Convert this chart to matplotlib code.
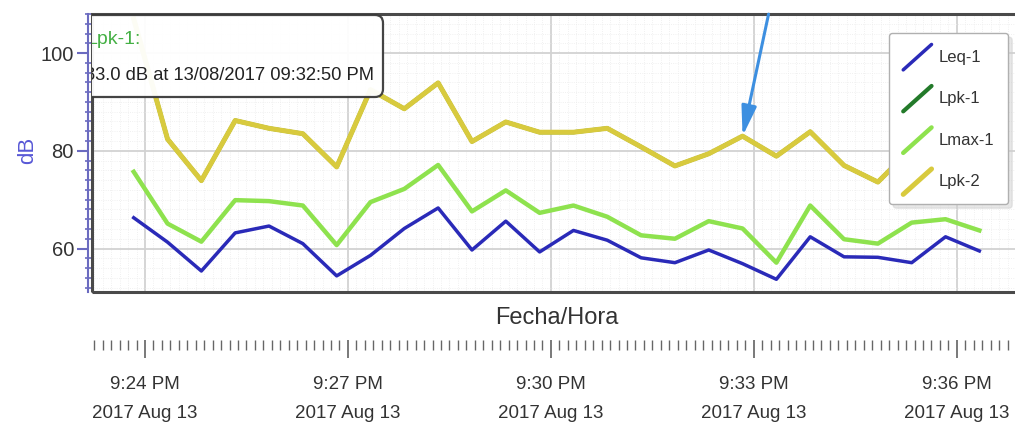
import numpy as np
import pandas as pd
import matplotlib
matplotlib.use('Agg')
import matplotlib.pyplot as plt
import matplotlib.dates as mdates
from matplotlib.ticker import MultipleLocator
from matplotlib.patches import FancyBboxPatch, Rectangle
from matplotlib.lines import Line2D
from matplotlib.legend_handler import HandlerBase

plt.rcParams['font.family'] = ['Liberation Sans Narrow', 'Liberation Sans', 'DejaVu Sans']

# samples every 30 s, 21:23:50 -> 21:36:20
times = pd.date_range('2017-08-13 21:23:50', periods=26, freq='30s')
leq_1 = [66.3, 61.3, 55.4, 63.2, 64.6, 61.0, 54.4, 58.6, 64.1, 68.3, 59.7, 65.6, 59.3,
         63.7, 61.7, 58.1, 57.1, 59.7, 56.9, 53.7, 62.4, 58.3, 58.2, 57.1, 62.4, 59.5]
lmax_1 = [75.7, 65.1, 61.4, 69.9, 69.7, 68.8, 60.7, 69.5, 72.2, 77.1, 67.6, 71.9, 67.3,
          68.8, 66.5, 62.7, 62.0, 65.6, 64.1, 57.1, 68.8, 61.9, 61.0, 65.3, 66.0, 63.7]
lpk_2 = [107.0, 82.4, 73.9, 86.2, 84.6, 83.5, 76.7, 92.5, 88.6, 93.9, 81.9, 85.9, 83.8,
         83.8, 84.6, 80.8, 76.9, 79.4, 83.0, 78.9, 83.9, 77.0, 73.6, 80.5, 82.0, 79.0]
lpk_1 = list(lpk_2)  # hidden under Lpk-2

series = ['Leq-1', 'Lpk-1', 'Lmax-1', 'Lpk-2']
colors = ['#2a2ab8', '#237a2a', '#8ee24e', '#d8ca3e']
widths = [2.5, 3.0, 3.2, 3.6]

marked_idx = 18  # 09:32:50 PM point in the tooltip


class DiagHandler(HandlerBase):
    def create_artists(self, legend, orig, xd, yd, w, h, fs, trans):
        ln = Line2D([-xd, -xd + w], [-yd - 0.25 * h, -yd + 1.15 * h],
                    color=orig.get_color(), lw=orig.get_linewidth(), solid_capstyle='round')
        ln.set_transform(trans)
        return [ln]


fig = plt.figure(figsize=(10.15, 4.32), dpi=100)
ax = fig.add_axes([92 / 1015, 140 / 432, 0.912, 278 / 432])

lines = []
for name, vals, c, lw in zip(series, [leq_1, lpk_1, lmax_1, lpk_2], colors, widths):
    ln, = ax.plot(times, vals, color=c, lw=lw, label=name, solid_joinstyle='round')
    lines.append(ln)

ax.set_xlim(pd.Timestamp('2017-08-13 21:23:13'), pd.Timestamp('2017-08-13 21:36:54'))
ax.set_ylim(51.1, 108.0)

ax.xaxis.set_major_locator(mdates.MinuteLocator(byminute=range(0, 60, 3)))
ax.xaxis.set_minor_locator(MultipleLocator(7.5 / 86400))
ax.yaxis.set_major_locator(MultipleLocator(20))
ax.yaxis.set_minor_locator(MultipleLocator(2))
ax.grid(True, which='major', color='#d2d2d2', lw=1.3)
ax.grid(True, which='minor', color='#ececec', lw=0.6, ls=':')
ax.set_axisbelow(True)
ax.tick_params(axis='x', which='both', length=0, labelbottom=False)

for s in ['top', 'right', 'bottom']:
    ax.spines[s].set_visible(False)
ax.spines['left'].set_position(('outward', 3))
ax.spines['left'].set_color('#6b6bc0')
ax.spines['left'].set_linewidth(1.5)
ax.tick_params(axis='y', which='major', direction='out', length=8, width=1.5,
               color='#6b6bc0', labelsize=14.5, labelcolor='#333333', pad=2)
ax.tick_params(axis='y', which='minor', direction='inout', length=4, width=1.2, color='#6b6bc0')
ax.add_patch(Rectangle((0, 0), 1, 1, transform=ax.transAxes, fill=False,
                       ec='#4a4a4a', lw=2.2, clip_on=False, zorder=5))

# time ruler below the plot
rul = fig.add_axes([92 / 1015, 92 / 432, 0.912, 0.0001], sharex=ax)
for s in rul.spines.values():
    s.set_visible(False)
rul.set_yticks([])
rul.patch.set_alpha(0)
rul.tick_params(axis='x', which='major', direction='out', length=13, width=1.1,
                color='#555555', labelsize=13.5, labelcolor='#333333', pad=13, labelbottom=True)
rul.tick_params(axis='x', which='minor', direction='out', length=7, width=1.0, color='#666666')
rul.xaxis.set_major_formatter(mdates.DateFormatter('%-I:%M %p\n%Y %b %d'))
for t in rul.get_xticklabels():
    t.set_linespacing(1.95)

fig.text(557 / 1015, 1 - 318 / 432, 'Fecha/Hora', ha='center', va='center', fontsize=17, color='#333333')
fig.text(28 / 1015, 1 - 150 / 432, 'dB', ha='center', va='center', rotation=90, fontsize=16, color='#5858d6')

# arrow to the picked point
ax.annotate('', xy=(mdates.date2num(times[marked_idx]), lpk_2[marked_idx]),
            xytext=(26, 122), textcoords='offset pixels', annotation_clip=False,
            arrowprops=dict(arrowstyle='-|>,head_length=1.8,head_width=0.45', color='#3d8fe0',
                            lw=2.2, shrinkA=0, shrinkB=0), zorder=7)

# tooltip (left part hidden by the axis)
tip = FancyBboxPatch((0.80, 3.35), 3.03, 0.82, boxstyle='round,pad=0,rounding_size=0.08',
                     transform=fig.dpi_scale_trans, fc='white', ec='#3a3a3a', lw=1.6, alpha=0.95, zorder=8)
ax.add_patch(tip)
ax.text(0.865, 3.93, 'Lpk-1:', transform=fig.dpi_scale_trans, va='center', fontsize=14,
        color='#44b044', clip_on=True, zorder=9)
ax.text(0.85, 3.57, '%.1f dB at 13/08/2017 09:32:50 PM' % lpk_2[marked_idx],
        transform=fig.dpi_scale_trans, va='center', fontsize=13.2, color='#222222', clip_on=True, zorder=9)

leg = ax.legend(handles=lines, loc='upper right', bbox_to_anchor=(1008 / 1015, 1 - 33 / 432),
                bbox_transform=fig.transFigure, borderaxespad=0, fontsize=12, fancybox=True,
                shadow={'ox': 3, 'oy': -3, 'color': '#d0d0d0'}, framealpha=1,
                edgecolor='#b0b0b0', borderpad=0.85, labelspacing=1.4, handlelength=1.7,
                handleheight=1.3, handletextpad=0.4,
                handler_map={Line2D: DiagHandler()})
for t in leg.get_texts():
    t.set_color('#333333')
leg.set_zorder(10)

fig.savefig('out.png', dpi=100)
